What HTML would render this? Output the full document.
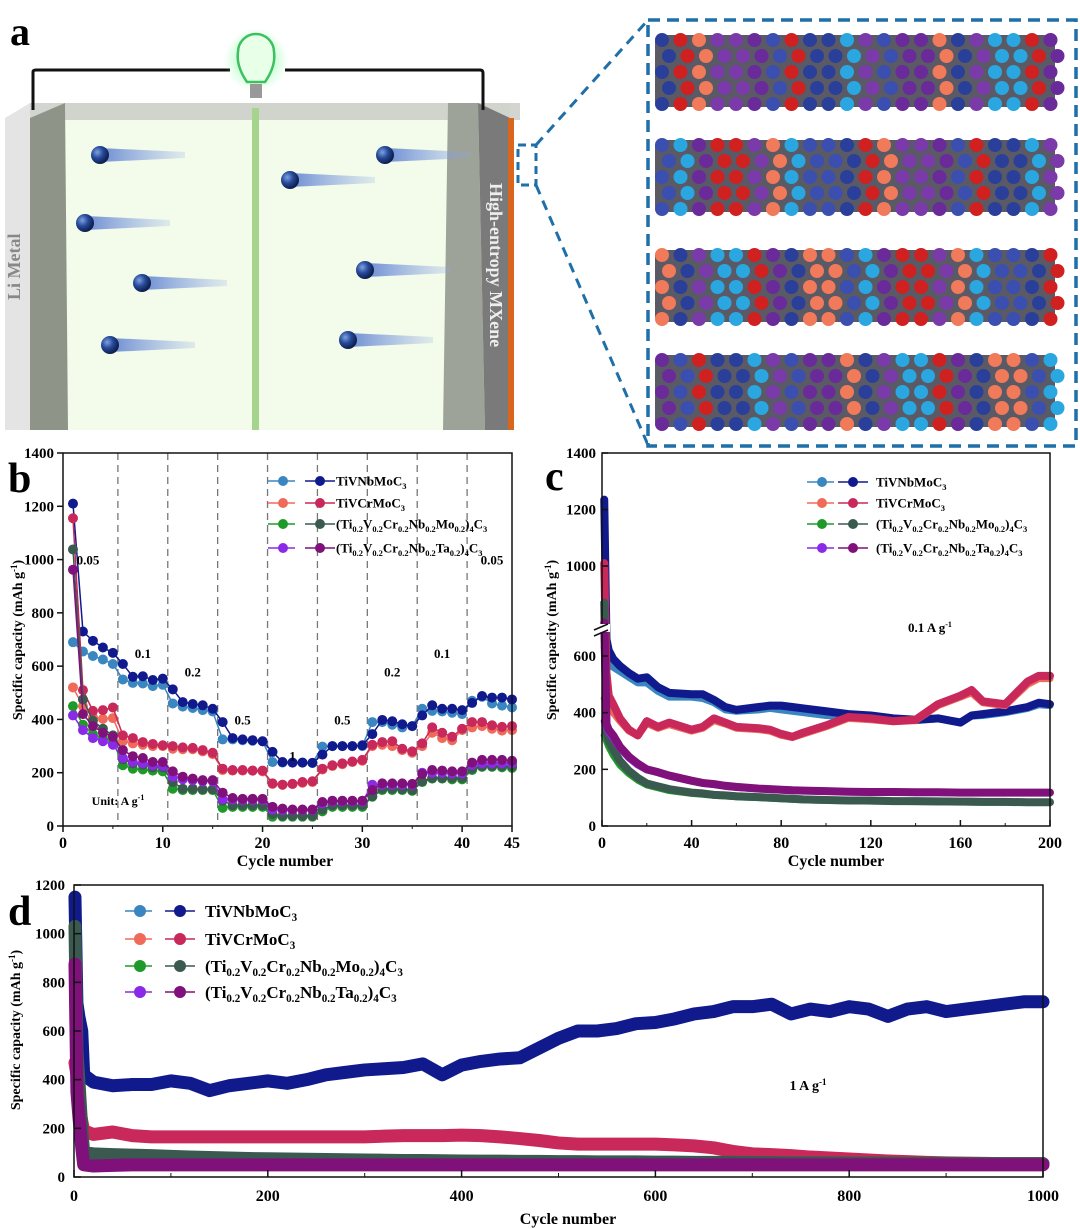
<!DOCTYPE html>
<html><head><meta charset="utf-8"><style>
html,body{margin:0;padding:0;background:#fff}
svg{display:block;font-family:"Liberation Serif",serif;font-weight:bold}
</style></head><body>
<svg id="fig" width="1080" height="1229" viewBox="0 0 1080 1229" xmlns="http://www.w3.org/2000/svg">
<defs>
<radialGradient id="ball" cx="35%" cy="35%" r="65%"><stop offset="0" stop-color="#7fa2e0"/><stop offset="0.5" stop-color="#274a9a"/><stop offset="1" stop-color="#0d1f4d"/></radialGradient>
<linearGradient id="tail" x1="0" x2="1"><stop offset="0" stop-color="#5c7fd0" stop-opacity="0.9"/><stop offset="1" stop-color="#8aa6e6" stop-opacity="0.2"/></linearGradient>
<radialGradient id="glow"><stop offset="0" stop-color="#6cff8c" stop-opacity="0.8"/><stop offset="1" stop-color="#6cff8c" stop-opacity="0"/></radialGradient>
</defs>
<g>
<text x="10" y="45" font-size="40">a</text>
<rect x="55" y="103" width="455" height="327" fill="#f3fbea"/>
<rect x="30" y="103" width="490" height="17" fill="#c8cbc4" opacity="0.8"/>
<polygon points="5,118 30,103 30,430 5,430" fill="#e4e4e4"/>
<polygon points="30,118 65,103 68,430 30,430" fill="#8e9588"/>
<polygon points="448,103 478,103 485,430 443,430" fill="#9ea39a"/>
<polygon points="478,103 510,118 510,430 485,430" fill="#7a7a7a"/>
<rect x="508" y="118" width="6" height="312" fill="#d9661e"/>
<rect x="252" y="108" width="7" height="322" fill="#a5d48c"/>
<path d="M33 110 V72 Q33 70 36 70 H230 M285 70 H480 Q483 70 483 73 V110" stroke="#111" stroke-width="3" fill="none"/>
<circle cx="256" cy="60" r="32" fill="url(#glow)"/>
<path d="M247 82 Q236 66 238 52 A18 18 0 1 1 274 52 Q276 66 265 82 Z" fill="#e8ffe8" stroke="#3cc060" stroke-width="2.5"/>
<rect x="250" y="84" width="12" height="14" fill="#999"/>
<text x="20" y="300" font-size="18" fill="#888" transform="rotate(-90 20 300)">Li Metal</text>
<text x="490" y="183" font-size="18" fill="#eee" transform="rotate(90 490 183)">High-entropy MXene</text>
<g id="ions"></g>
<rect x="518" y="145" width="18" height="40" fill="none" stroke="#1f6fa8" stroke-width="3" stroke-dasharray="8 5"/>
<path d="M536 145 L648 20 M536 185 L648 445" stroke="#1f6fa8" stroke-width="3" stroke-dasharray="10 7"/>
<rect x="648" y="20" width="428" height="426" fill="#fff" stroke="#1f6fa8" stroke-width="3.5" stroke-dasharray="12 7"/>
<g id="layers"></g>
</g>
<g id="pb"></g><g id="pc"></g><g id="pd"></g>
</svg>
<script>
const NS="http://www.w3.org/2000/svg";
function mk(tag,attrs,parent,txt){const e=document.createElementNS(NS,tag);for(const k in attrs)e.setAttribute(k,attrs[k]);if(txt!==undefined)e.textContent=txt;parent.appendChild(e);return e;}
const ions=document.getElementById('ions');
[[100,155],[85,223],[142,283],[110,345],[290,180],[385,155],[365,270],[348,340]].forEach(p=>{
 mk('polygon',{points:`${p[0]},${p[1]-7} ${p[0]+85},${p[1]-3} ${p[0]+85},${p[1]+3} ${p[0]},${p[1]+7}`,fill:'url(#tail)'},ions);
 const c=mk('circle',{cx:p[0],cy:p[1],r:9,fill:'url(#ball)'},ions);
 
 
});
const layers=document.getElementById('layers');
const atomCols=['#2a3f9a','#6a2a9a','#2aa7e0','#f07a5a','#d02020','#3a4fb0','#7a3aaa'];
[30,135,245,350].forEach((y0,li)=>{
 const g=mk('g',{},layers);
 
 
 mk('rect',{x:655,y:y0+5,width:400,height:72,fill:'#5a5a66',rx:6},g);
 for(let r=0;r<5;r++)for(let c=0;c<22;c++){
   const k=(r*7+c*3+li*5+(c*c)%5)%7;
   mk('circle',{cx:662+c*18.5+(r%2)*7,cy:y0+10+r*16,r:7,fill:atomCols[k]},g);
 }
});
function axisText(g,x,y,t,size,anchor,extra){return mk('text',Object.assign({x:x,y:y,'font-size':size,'text-anchor':anchor||'middle'},extra||{}),g,t);}
// parts: strings; subscripts prefixed by '_'
function formula(g,x,y,fs,parts){
 const t=mk('text',{x:x,y:y,'font-size':fs},g);
 let sub=false;
 parts.forEach(p=>{
  if(p[0]==='_'){mk('tspan',{'font-size':fs*0.65,dy:fs*0.25},t,p.slice(1));sub=true;}
  else{mk('tspan',sub?{dy:-fs*0.25}:{},t,p);sub=false;}
 });
 return t;
}
const legendParts=[
 ['TiVNbMoC','_3'],
 ['TiVCrMoC','_3'],
 ['(Ti','_0.2','V','_0.2','Cr','_0.2','Nb','_0.2','Mo','_0.2',')','_4','C','_3'],
 ['(Ti','_0.2','V','_0.2','Cr','_0.2','Nb','_0.2','Ta','_0.2',')','_4','C','_3']
];
const lightCols=['#3a86c0','#f06a5a','#1f9a2a','#8a2ae6'];
const darkCols=['#101a8c','#c8285a','#3a5a50','#80107a'];
function legend(g,xl,xd,xt,ys,fs,r){
 ys.forEach((y,i)=>{
  const e=mk('g',{},g);
  
  
  mk('line',{x1:xl-15,y1:y,x2:xl+12,y2:y,stroke:lightCols[i],'stroke-width':1.5},e);
  mk('circle',{cx:xl,cy:y,r:r,fill:lightCols[i]},e);
  mk('line',{x1:xd-15,y1:y,x2:xd+15,y2:y,stroke:darkCols[i],'stroke-width':1.5},e);
  mk('circle',{cx:xd,cy:y,r:r,fill:darkCols[i]},e);
  formula(e,xt,y+fs*0.35,fs,legendParts[i]);
 });
}

const bCycles=[1,2,3,4,5,6,7,8,9,10,11,12,13,14,15,16,17,18,19,20,21,22,23,24,25,26,27,28,29,30,31,32,33,34,35,36,37,38,39,40,41,42,43,44,45];
const bNbMoLight=[690,655,638,625,608,550,537,535,525,530,460,448,443,435,430,325,325,322,320,318,240,238,238,238,237,298,300,300,300,300,390,390,380,370,375,440,432,430,425,420,470,485,460,452,445];
const bNbMoDark=[1210,730,695,670,650,608,560,562,548,553,513,465,458,453,440,390,330,325,322,318,278,240,238,238,237,268,300,300,300,303,345,398,393,382,375,415,453,440,440,435,462,488,482,482,475];
const bCrMoLight=[520,450,408,402,405,318,310,305,300,300,290,288,288,280,270,210,208,208,208,205,158,155,158,162,165,212,225,232,240,245,300,305,300,285,275,300,350,330,322,360,370,375,365,358,360];
const bCrMoDark=[1155,510,432,435,445,340,330,315,308,303,300,295,293,285,275,215,210,210,208,208,160,155,158,165,168,215,228,235,242,248,305,315,318,290,280,310,370,350,335,365,390,390,378,372,375];
const bHeMoLight=[450,380,345,330,320,228,215,212,208,205,140,135,135,135,135,68,72,72,72,72,35,35,35,35,35,55,72,72,72,72,110,135,135,135,132,165,178,178,175,175,210,222,222,220,218];
const bHeMoDark=[1038,475,395,365,340,250,235,230,220,220,165,140,140,138,138,95,78,78,78,78,45,38,38,38,38,62,78,78,78,78,112,140,140,138,135,168,180,180,180,180,215,225,225,225,225];
const bHeTaLight=[415,360,330,318,305,255,240,235,228,225,185,175,172,168,168,100,100,98,98,98,62,60,60,60,60,85,92,92,92,92,155,155,155,155,155,200,200,200,198,198,230,235,235,235,235];
const bHeTaDark=[962,420,375,350,335,285,262,255,240,240,205,185,178,172,172,125,105,102,102,102,72,65,62,62,62,90,95,95,95,95,135,160,160,160,158,195,210,208,205,205,238,248,248,248,245];
const bXTicks=[0,10,20,30,40,45];
const bYTicks=[0,200,400,600,800,1000,1200,1400];
const bDividers=[5.5,10.5,15.5,20.5,25.5,30.5,35.5,40.5];
const bRates=[['0.05',2.5,1000],['0.1',8,650],['0.2',13,580],['0.5',18,400],['1',23,265],['0.5',28,400],['0.2',33,580],['0.1',38,650],['0.05',43,1000]];

const cCycles=[1,2,3,5,8,12,16,20,25,30,40,45,50,55,60,70,75,80,85,90,100,110,120,130,140,150,160,165,170,180,190,195,200];
const cNbMoDark=[1235,660,620,590,565,540,520,525,490,470,465,465,445,420,410,420,425,425,420,415,405,395,390,380,375,380,365,390,395,405,420,435,430];
const cNbMoLight=[630,600,580,560,545,525,505,505,475,455,455,450,435,410,405,410,415,410,405,400,390,385,385,375,372,378,368,388,390,400,415,428,425];
const cCrMoDark=[1010,540,460,430,380,340,320,370,350,365,340,350,380,365,350,345,340,325,315,330,355,385,380,370,375,430,460,480,440,430,510,530,530];
const cCrMoLight=[450,440,420,400,370,335,318,362,345,358,335,345,372,360,345,340,335,320,312,325,350,380,375,368,372,425,455,470,435,425,500,520,520];
const cHeMoDark=[870,330,300,270,230,195,170,150,140,130,118,115,110,108,105,102,100,98,96,94,92,90,90,88,88,87,86,86,85,85,84,84,84];
const cHeMoLight=[320,300,280,250,215,185,162,145,135,125,115,112,108,106,103,100,98,96,94,92,90,89,88,87,86,85,85,84,84,84,83,83,83];
const cHeTaDark=[800,360,340,320,280,245,220,200,190,178,160,152,148,142,138,132,130,128,126,125,123,121,120,120,119,119,118,118,118,118,118,118,118];
const cHeTaLight=[370,350,330,310,275,240,215,198,188,176,158,150,146,140,136,131,129,127,125,124,122,120,119,119,118,118,117,117,117,117,117,117,117];
const cXTicks=[0,40,80,120,160,200];
const cYTicks=[0,200,400,600,1000,1200,1400];

const dCycles=[1,3,5,8,10,20,40,60,80,100,120,140,160,180,200,220,240,260,280,300,320,340,360,380,400,420,440,460,480,500,520,540,560,580,600,620,640,660,680,700,720,740,760,780,800,820,840,860,880,900,920,940,960,980,1000];
const dNbMoDark=[1150,715,660,600,420,390,375,380,380,395,385,355,375,385,395,385,400,420,430,440,445,450,465,420,460,475,485,490,530,570,600,600,610,630,635,650,670,680,700,700,710,670,690,680,700,690,660,690,700,680,690,700,710,720,720];
const dCrMoDark=[470,420,300,230,190,175,185,170,165,165,165,165,165,165,165,165,165,165,165,165,168,170,170,170,172,170,165,158,150,140,135,135,135,135,135,132,128,120,105,95,92,88,82,78,74,70,66,63,60,58,57,56,55,55,55];
const dHeMoDark=[1030,520,400,200,100,95,92,90,88,85,82,80,78,76,75,74,73,72,71,70,69,68,68,67,66,65,65,64,64,63,63,62,62,62,61,61,60,60,60,59,59,58,58,58,57,57,57,56,56,56,55,55,55,55,55];
const dHeTaDark=[875,350,250,120,50,45,48,50,50,50,50,50,50,50,50,50,50,50,50,50,50,50,50,50,50,50,50,50,50,50,50,50,50,50,50,50,50,50,50,50,50,50,50,50,50,50,50,50,50,50,50,50,50,50,50];
const dLightCycles=[1,3,5,8,10];
const dNbMoLight=[680,650,620,600,420];
const dCrMoLight=[470,450,420,300,200];
const dHeMoLight=[520,450,380,330,100];
const dHeTaLight=[360,300,250,200,50];
const dXTicks=[0,200,400,600,800,1000];
const dYTicks=[0,200,400,600,800,1000,1200];

(function(){
 const g=document.getElementById('pb');
 
 
 const X0=63,X1=512,Y0=826,Y1=453;
 const sx=v=>X0+v/45*(X1-X0), sy=v=>Y0-v/1400*(Y0-Y1);
 bDividers.forEach(d=>{const l=mk('line',{x1:sx(d),x2:sx(d),y1:Y1,y2:Y0,stroke:'#777','stroke-width':1.3,'stroke-dasharray':'7 5'},g);});
 const series=[[bNbMoLight,0,1],[bNbMoDark,0,0],[bCrMoLight,1,1],[bCrMoDark,1,0],[bHeMoLight,2,1],[bHeMoDark,2,0],[bHeTaLight,3,1],[bHeTaDark,3,0]];
 series.forEach(s=>{
  const col=s[2]?lightCols[s[1]]:darkCols[s[1]];
  const sg=mk('g',{},g);
  
  
  mk('polyline',{points:s[0].map((v,i)=>sx(bCycles[i])+','+sy(v)).join(' '),fill:'none',stroke:col,'stroke-width':1.5},sg);
  s[0].forEach((v,i)=>mk('circle',{cx:sx(bCycles[i]),cy:sy(v),r:5,fill:col},sg));
 });
 mk('rect',{x:X0,y:Y1,width:X1-X0,height:Y0-Y1,fill:'none',stroke:'#111','stroke-width':1.5},g);
 bXTicks.forEach(t=>{mk('line',{x1:sx(t),x2:sx(t),y1:Y0,y2:Y0+6,stroke:'#111','stroke-width':1.5},g);axisText(g,sx(t),Y0+22,String(t),16);});
 for(let t=5;t<45;t+=10)mk('line',{x1:sx(t),x2:sx(t),y1:Y0,y2:Y0+3,stroke:'#111'},g);
 bYTicks.forEach(t=>{mk('line',{x1:X0-6,x2:X0,y1:sy(t),y2:sy(t),stroke:'#111','stroke-width':1.5},g);axisText(g,X0-9,sy(t)+5,String(t),15,'end');});
 bRates.forEach(r=>axisText(g,sx(r[1]),sy(r[2])+5,r[0],13));
 const u=axisText(g,118,805,'Unit: A g',12);mk('tspan',{'font-size':8,dy:-5},u,'-1');
 axisText(g,285,866,'Cycle number',16);
 const yt=axisText(g,22,640,'Specific capacity (mAh g',14,'middle',{transform:'rotate(-90 22 640)'});mk('tspan',{'font-size':9,dy:-5},yt,'-1');mk('tspan',{dy:5},yt,')');
 mk('text',{x:8,y:492,'font-size':42},g,'b');
 legend(g,283,320,336,[481,503,524,548],13,5);
})();

(function(){
 const g=document.getElementById('pc');
 
 
 const X0=602,X1=1050,Y0=826,Y1=453;
 const sx=v=>X0+v/200*(X1-X0);
 const sy=v=>v<=750?Y0-v*0.2833:566-(v-1000)*0.2825;
 const series=[[cNbMoLight,0,1],[cNbMoDark,0,0],[cCrMoLight,1,1],[cCrMoDark,1,0],[cHeMoLight,2,1],[cHeMoDark,2,0],[cHeTaLight,3,1],[cHeTaDark,3,0]];
 series.forEach(s=>{
  const col=s[2]?lightCols[s[1]]:darkCols[s[1]];
  const p=mk('polyline',{points:s[0].map((v,i)=>sx(cCycles[i])+','+sy(v)).join(' '),fill:'none',stroke:col,'stroke-width':s[2]?7:8,'stroke-linejoin':'round','stroke-linecap':'round'},g);
  
  
 });
 mk('rect',{x:X0,y:Y1,width:X1-X0,height:Y0-Y1,fill:'none',stroke:'#111','stroke-width':1.5},g);
 mk('rect',{x:X0-8,y:624,width:16,height:8,fill:'#fff'},g);
 mk('path',{d:`M${X0-8} 630 L${X0+6} 624 M${X0-8} 636 L${X0+6} 630`,stroke:'#111','stroke-width':1.5},g);
 cXTicks.forEach(t=>{mk('line',{x1:sx(t),x2:sx(t),y1:Y0,y2:Y0-6,stroke:'#111','stroke-width':1.5},g);axisText(g,sx(t),Y0+22,String(t),16);});
 for(let t=20;t<200;t+=40)mk('line',{x1:sx(t),x2:sx(t),y1:Y0,y2:Y0-3,stroke:'#111'},g);
 cYTicks.forEach(t=>{mk('line',{x1:X0,x2:X0+6,y1:sy(t),y2:sy(t),stroke:'#111','stroke-width':1.5},g);axisText(g,X0-6,sy(t)+5,String(t),15,'end');});
 const r=axisText(g,930,632,'0.1 A g',13);mk('tspan',{'font-size':8,dy:-5},r,'-1');
 axisText(g,836,866,'Cycle number',16);
 const yt=axisText(g,556,640,'Specific capacity (mAh g',14,'middle',{transform:'rotate(-90 556 640)'});mk('tspan',{'font-size':9,dy:-5},yt,'-1');mk('tspan',{dy:5},yt,')');
 mk('text',{x:545,y:490,'font-size':42},g,'c');
 legend(g,822,853,876,[482,503,524,548],13,5);
})();

(function(){
 const g=document.getElementById('pd');
 
 
 const X0=74,X1=1043,Y0=1177,Y1=885;
 const sx=v=>X0+v/1000*(X1-X0), sy=v=>Y0-v/1200*(Y0-Y1);
 const light=[[dNbMoLight,0],[dCrMoLight,1],[dHeMoLight,2],[dHeTaLight,3]];
 const dark=[[dNbMoDark,0],[dCrMoDark,1],[dHeMoDark,2],[dHeTaDark,3]];
 light.forEach(s=>{
  const p=mk('polyline',{points:s[0].map((v,i)=>sx(dLightCycles[i])+','+sy(v)).join(' '),fill:'none',stroke:lightCols[s[1]],'stroke-width':8,'stroke-linejoin':'round','stroke-linecap':'round'},g);
  
  
 });
 dark.forEach(s=>{
  const p=mk('polyline',{points:s[0].map((v,i)=>sx(dCycles[i])+','+sy(v)).join(' '),fill:'none',stroke:darkCols[s[1]],'stroke-width':13,'stroke-linejoin':'round','stroke-linecap':'round'},g);
  
  
 });
 mk('rect',{x:X0,y:Y1,width:X1-X0,height:Y0-Y1,fill:'none',stroke:'#111','stroke-width':1.5},g);
 dXTicks.forEach(t=>{mk('line',{x1:sx(t),x2:sx(t),y1:Y0,y2:Y0-7,stroke:'#111','stroke-width':1.5},g);axisText(g,sx(t),Y0+24,String(t),16);});
 for(let t=100;t<1000;t+=200)mk('line',{x1:sx(t),x2:sx(t),y1:Y0,y2:Y0-4,stroke:'#111'},g);
 dYTicks.forEach(t=>{mk('line',{x1:X0,x2:X0+7,y1:sy(t),y2:sy(t),stroke:'#111','stroke-width':1.5},g);axisText(g,X0-9,sy(t)+5,String(t),15,'end');});
 const r=axisText(g,808,1090,'1 A g',14);mk('tspan',{'font-size':9,dy:-5},r,'-1');
 axisText(g,568,1224,'Cycle number',16);
 const yt=axisText(g,20,1030,'Specific capacity (mAh g',14,'middle',{transform:'rotate(-90 20 1030)'});mk('tspan',{'font-size':9,dy:-5},yt,'-1');mk('tspan',{dy:5},yt,')');
 mk('text',{x:8,y:925,'font-size':42},g,'d');
 legend(g,140,180,205,[911,939,966,992],17,6);
})();
</script>
</body></html>
